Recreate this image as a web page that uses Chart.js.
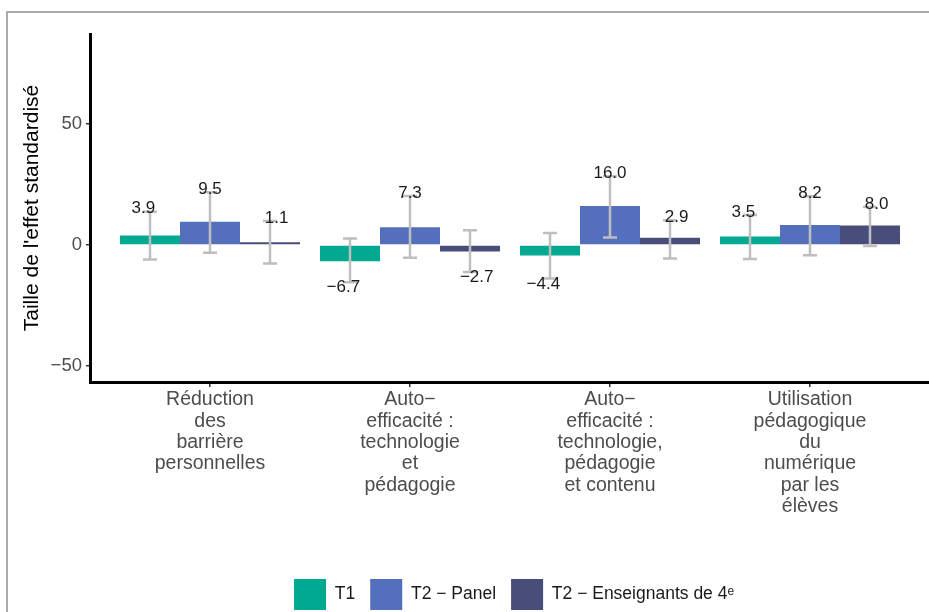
<!DOCTYPE html>
<html lang="fr">
<head>
<meta charset="utf-8">
<title>Taille de l'effet standardisé</title>
<script src="https://cdn.jsdelivr.net/npm/chart.js@4.4.1/dist/chart.umd.min.js"></script>
<style>
  html, body { margin: 0; padding: 0; width: 929px; height: 612px; overflow: hidden; background: #fff; }
  #cadre { position: absolute; left: 6px; top: 11px; width: 1000px; height: 700px;
           border-left: 2px solid #ababab; border-top: 2px solid #ababab; }
  #graph { position: absolute; left: 0; top: 0; }
</style>
</head>
<body>
<div id="cadre"></div>
<canvas id="graph" width="1028" height="624"></canvas>
<script>
// libellés des dimensions (une ligne par élément)
const categories = [
    ['Réduction', 'des', 'barrière', 'personnelles'],
    ['Auto−', 'efficacité :', 'technologie', 'et', 'pédagogie'],
    ['Auto−', 'efficacité :', 'technologie,', 'pédagogie', 'et contenu'],
    ['Utilisation', 'pédagogique', 'du', 'numérique', 'par les', 'élèves']
];
const seriesNames = ['T1', 'T2 − Panel', 'T2 − Enseignants de 4ᵉ'];

// tailles d'effet
const t1 = [3.9, -6.7, -4.4, 3.5];
const t2Panel = [9.5, 7.3, 16.0, 8.2];
const t2Ens = [1.1, -2.7, 2.9, 8.0];

// intervalles de confiance (bas / haut)
const t1Low = [-6.0, -15.4, -13.9, -5.8];
const t1High = [13.7, 2.6, 4.9, 12.3];
const t2PanelLow = [-3.2, -5.3, 3.0, -4.3];
const t2PanelHigh = [21.7, 20.1, 28.3, 20.0];
const t2EnsLow = [-7.7, -11.2, -5.6, -0.5];
const t2EnsHigh = [9.8, 6.0, 10.2, 15.6];

const yTicks = [-50, 0, 50];

const colors = ['#00a98f', '#5470bd', '#484d7a'];
const fontFamily = '"Liberation Sans", Arial, sans-serif';

function points(values) {
    return values.map((v, i) => ({ x: i + 1, y: v }));
}

const errorBars = {
    id: 'errorBars',
    afterDatasetsDraw(chart) {
        const { ctx } = chart;
        const y = chart.scales.y;
        ctx.save();
        ctx.strokeStyle = '#bebebe';
        ctx.lineWidth = 2.5;
        chart.data.datasets.forEach((ds, d) => {
            chart.getDatasetMeta(d).data.forEach((bar, i) => {
                const top = y.getPixelForValue(ds.high[i]);
                const bottom = y.getPixelForValue(ds.low[i]);
                ctx.beginPath();
                ctx.moveTo(bar.x, top);
                ctx.lineTo(bar.x, bottom);
                ctx.moveTo(bar.x - 7, top);
                ctx.lineTo(bar.x + 7, top);
                ctx.moveTo(bar.x - 7, bottom);
                ctx.lineTo(bar.x + 7, bottom);
                ctx.stroke();
            });
        });
        ctx.restore();
    }
};

const valueLabels = {
    id: 'valueLabels',
    afterDatasetsDraw(chart) {
        const { ctx } = chart;
        const x = chart.scales.x;
        const y = chart.scales.y;
        const step = x.getPixelForValue(2) - x.getPixelForValue(1);
        ctx.save();
        ctx.font = '17px ' + fontFamily;
        ctx.fillStyle = '#1a1a1a';
        ctx.textAlign = 'center';
        ctx.textBaseline = 'alphabetic';
        chart.data.datasets.forEach((ds, d) => {
            ds.data.forEach((p, i) => {
                const px = x.getPixelForValue(p.x) + (d - 1) * step / 3;
                const txt = p.y.toFixed(1).replace('-', '−');
                const py = p.y >= 0
                    ? y.getPixelForValue(ds.high[i]) + 1.5
                    : y.getPixelForValue(ds.low[i]) + 10;
                ctx.fillText(txt, px, py);
            });
        });
        ctx.restore();
    }
};

new Chart(document.getElementById('graph'), {
    type: 'bar',
    data: {
        datasets: [
            { label: seriesNames[0], data: points(t1), low: t1Low, high: t1High, backgroundColor: colors[0] },
            { label: seriesNames[1], data: points(t2Panel), low: t2PanelLow, high: t2PanelHigh, backgroundColor: colors[1] },
            { label: seriesNames[2], data: points(t2Ens), low: t2EnsLow, high: t2EnsHigh, backgroundColor: colors[2] }
        ]
    },
    options: {
        responsive: false,
        animation: false,
        devicePixelRatio: 1,
        categoryPercentage: 0.9,
        barPercentage: 1.0,
        layout: { padding: { top: 34, left: 0, right: 0, bottom: 4 } },
        plugins: {
            tooltip: { enabled: false },
            legend: {
                position: 'bottom',
                labels: {
                    boxWidth: 32,
                    boxHeight: 31,
                    padding: 15,
                    color: '#1a1a1a',
                    font: { family: fontFamily, size: 17.5 }
                }
            }
        },
        scales: {
            x: {
                type: 'linear',
                offset: false,
                min: 0.4,
                max: 5.09,
                afterBuildTicks: axis => { axis.ticks = categories.map((c, i) => ({ value: i + 1 })); },
                afterFit: axis => { axis.height = 182; },
                grid: { offset: false, drawOnChartArea: false, drawTicks: true, tickLength: 5, color: '#333', lineWidth: 1.5 },
                border: { display: true, color: '#000', width: 3 },
                ticks: {
                    padding: 2,
                    maxRotation: 0,
                    autoSkip: false,
                    color: '#4d4d4d',
                    font: { family: fontFamily, size: 19.5, lineHeight: 1.1 },
                    callback: v => categories[v - 1] || ''
                }
            },
            y: {
                min: -56.5,
                max: 86.9,
                afterBuildTicks: axis => { axis.ticks = yTicks.map(v => ({ value: v })); },
                afterFit: axis => { axis.width = 90; },
                grid: { drawOnChartArea: false, drawTicks: true, tickLength: 4, color: '#333', lineWidth: 1.5 },
                border: { display: true, color: '#000', width: 3 },
                ticks: {
                    padding: 4,
                    color: '#4d4d4d',
                    font: { family: fontFamily, size: 18.5 },
                    callback: v => String(v).replace('-', '−')
                },
                title: {
                    display: true,
                    text: "Taille de l'effet standardisé",
                    color: '#000',
                    font: { family: fontFamily, size: 21 },
                    padding: { top: 20, bottom: 0 }
                }
            }
        }
    },
    plugins: [errorBars, valueLabels]
});
</script>
</body>
</html>
